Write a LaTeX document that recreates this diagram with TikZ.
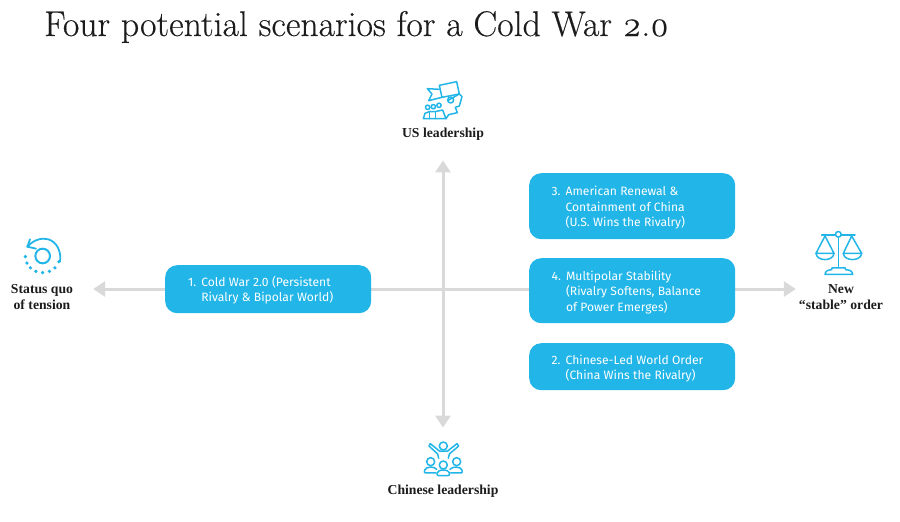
\documentclass[tikz,border=0pt]{standalone}
\usepackage{fontspec}
\setmainfont{Liberation Serif}
\setsansfont{Fira Sans}
\newfontfamily\titlefont{Latin Modern Roman}[Numbers=OldStyle,FakeBold=0.35]
\usetikzlibrary{arrows.meta}
\definecolor{cy}{HTML}{22B5E8}
\definecolor{ar}{HTML}{D9D9D9}
\definecolor{ink}{HTML}{1C1C1C}
\tikzset{
 box/.style={fill=cy,rounded corners=12pt,minimum width=206pt,text width=206pt,inner sep=0pt,anchor=north west,text=white},
 lab/.style={font=\bfseries\fontsize{13.7}{15.5}\selectfont,text=ink,align=center,inner sep=0pt},
 axis/.style={draw=ar,line width=3pt,-{Triangle[length=12pt,width=15pt]}},
 ic/.style={draw=cy,line width=1.5pt,line cap=round,line join=round,fill=none},
}
\newcommand{\boxtext}[2]{\sffamily\fontsize{12.1}{15.3}\selectfont\hspace*{#1}\raisebox{-5pt}[0pt][0pt]{\begin{tabular}[c]{@{}l@{\hspace{5pt}}l@{}}#2\end{tabular}}}
\begin{document}
\begin{tikzpicture}[x=1pt,y=-1pt]
\useasboundingbox (0,0) rectangle (900,522);
\node[anchor=base west,inner sep=0pt,text=ink,font=\titlefont\fontsize{35.7}{38}\selectfont] (title) at (44,36) {Four potential scenarios for a Cold War 2.0};
\coordinate (c) at (443,289);
\node[lab] (us) at (443,134) {US leadership};
\node[lab] (cn) at (443,491) {Chinese leadership};
\node[lab] (sq) at (42,297) {Status quo\\of tension};
\node[lab] (ns) at (841,297) {New\\“stable” order};
\draw[axis] (c) -- ([yshift=-20pt]us.south);
\draw[axis] (c) -- ([yshift=57pt]cn.north);
\draw[axis] (c) -- ([xshift=20pt]sq.east |- c);
\draw[axis] (c) -- ([xshift=-3pt]ns.west |- c);
\node[box,minimum height=48pt] (b1) at (165,265) {\boxtext{23pt}{1.&Cold War 2.0 (Persistent\\&Rivalry \& Bipolar World)}};
\node[box,minimum height=66pt] (b3) at (529,173) {\boxtext{22.5pt}{3.&American Renewal \&\\&Containment of China\\&(U.S. Wins the Rivalry)}};
\node[box,minimum height=65pt] (b4) at (529,258) {\boxtext{22.5pt}{4.&Multipolar Stability\\&(Rivalry Softens, Balance\\&of Power Emerges)}};
\node[box,minimum height=47pt] (b2) at (529,343) {\boxtext{22.5pt}{2.&Chinese-Led World Order\\&(China Wins the Rivalry)}};
% US icon
\begin{scope}[shift={(380,70)},x=.3333pt,y=-.3333pt]
\draw[ic] (178,46) -- (230,35) -- (238,72) -- (186,82) -- cycle;
\draw[ic] (178,58) -- (142,56) -- (156,72) -- (146,92) -- (186,82);
\draw[ic] (203,92) -- (238,72) -- (246,80) -- (238,108) -- (226,112) -- (232,128) -- (206,134) -- (198,146);
\draw[ic] (212,90) circle (9);
\draw[ic] (143,112) circle (6.5);
\draw[ic] (160,110) circle (6.5);
\draw[ic] (177,106) circle (6.5);
\draw[ic] (130,146) -- (135,130) -- (148,125) -- (165,125) -- (188,120) -- (198,146) -- cycle;
\draw[ic] (148,125) -- (148,146);
\draw[ic] (167,125) -- (167,146);
\end{scope}
% status icon
\begin{scope}[shift={(0,220)},x=.3333pt,y=-.3333pt]
\draw[ic,line width=2pt] (128,108) circle (22);
\draw[ic,line width=1.8pt] (82,80) .. controls (100,60) and (125,52) .. (145,58) .. controls (170,65) and (185,95) .. (180,125);
\draw[ic,line width=1.8pt] (82,80) -- (108,86);
\draw[ic,line width=1.8pt] (82,80) -- (90,58);
\foreach \a in {20,45,67,90,113,135,155,178} \fill[cy] ({128+52*cos(\a)},{108+50*sin(\a)}) circle (5.5);
\end{scope}
% scale icon
\begin{scope}[shift={(780,220)},x=.3333pt,y=-.3333pt]
\draw[ic] (125,45) -- (166,45);
\draw[ic] (184,45) -- (225,45);
\draw[ic] (175,43) circle (8.5);
\draw[ic] (175,52) -- (175,143);
\draw[ic] (135,48) -- (108,100) -- (162,100) -- cycle;
\draw[ic] (108,100) .. controls (110,125) and (160,125) .. (162,100);
\draw[ic] (215,48) -- (190,100) -- (245,100) -- cycle;
\draw[ic] (190,100) .. controls (192,125) and (243,125) .. (245,100);
\draw[ic] (135,163) .. controls (136,152) and (145,150) .. (155,149) -- (156,144) -- (196,144) -- (197,149) .. controls (208,150) and (217,152) .. (218,163) -- cycle;
\end{scope}
% people icon
\begin{scope}[shift={(380,410)},x=.3333pt,y=-.3333pt]
\draw[ic] (190,108) circle (12);
\draw[ic] (176,145) -- (173,132) -- (147,108) -- (151,101) -- (178,123) -- (203,123) -- (231,101) -- (236,108) -- (208,132) -- (205,145);
\draw[ic] (152,155) circle (12);
\draw[ic] (230,155) circle (12);
\draw[ic] (190,165) circle (12);
\draw[ic] (168,189) -- (136,189) .. controls (130,189) and (132,171) .. (152,171) .. controls (160,171) and (166,174) .. (170,178);
\draw[ic] (212,189) -- (244,189) .. controls (250,189) and (248,171) .. (228,171) .. controls (220,171) and (214,174) .. (210,178);
\draw[ic] (176,197) .. controls (168,197) and (168,180) .. (190,180) .. controls (212,180) and (212,197) .. (204,197) -- cycle;
\end{scope}
\end{tikzpicture}
\end{document}
